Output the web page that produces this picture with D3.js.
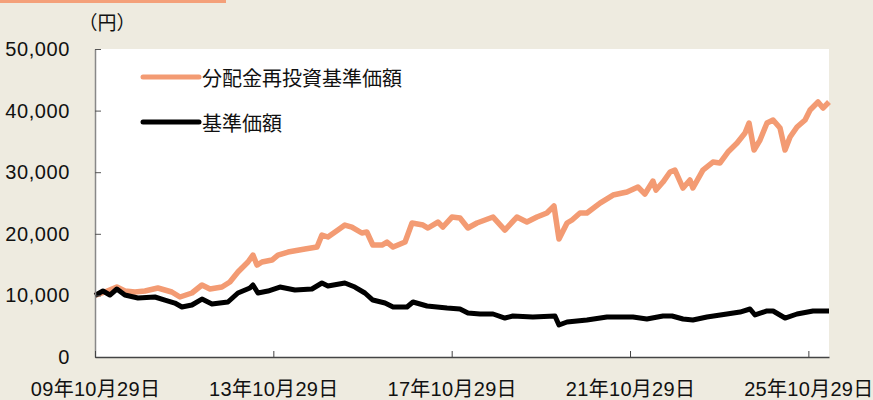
<!DOCTYPE html>
<html>
<head>
<meta charset="utf-8">
<script src="https://cdn.jsdelivr.net/npm/d3@7"></script>
<style>
  html, body { margin: 0; padding: 0; background: #eeebe0; }
  svg { display: block; }
  text { font-family: "Liberation Sans", "Noto Sans CJK JP", sans-serif; fill: #111; }
</style>
</head>
<body>
<div id="chart"></div>
<script>
// 分配金再投資基準価額 (orange)
const reinvestDates = [
  '2009-10-29', '2010-01-18', '2010-04-26', '2010-07-01', '2010-09-21', '2010-12-12',
  '2011-03-28', '2011-07-20', '2011-09-25', '2012-01-01', '2012-03-23', '2012-05-28',
  '2012-09-03', '2012-11-07', '2013-01-12', '2013-04-04', '2013-05-15', '2013-06-17',
  '2013-07-28', '2013-10-18', '2013-12-06', '2014-02-26', '2014-07-15', '2014-10-22',
  '2014-12-01', '2015-01-19', '2015-04-11', '2015-06-07', '2015-08-03', '2015-10-24',
  '2015-12-04', '2016-01-22', '2016-04-06', '2016-05-17', '2016-07-06', '2016-10-12',
  '2016-12-08', '2017-03-08', '2017-04-18', '2017-07-08', '2017-08-18', '2017-10-31',
  '2018-01-05', '2018-03-11', '2018-05-24', '2018-10-03', '2019-01-08', '2019-04-16',
  '2019-07-07', '2019-09-27', '2019-12-18', '2020-02-14', '2020-03-26', '2020-05-31',
  '2020-07-11', '2020-09-14', '2020-11-10', '2021-02-25', '2021-06-12', '2021-10-04',
  '2022-01-02', '2022-02-28', '2022-05-05', '2022-05-30', '2022-07-26', '2022-09-22',
  '2022-11-01', '2023-01-06', '2023-03-04', '2023-03-28', '2023-06-18', '2023-09-08',
  '2023-11-04', '2024-01-09', '2024-03-24', '2024-05-28', '2024-06-30', '2024-08-10',
  '2024-09-28', '2024-11-24', '2025-01-13', '2025-03-11', '2025-04-21', '2025-06-01',
  '2025-07-28', '2025-10-02', '2025-11-12', '2026-01-16', '2026-02-26', '2026-04-16'
];
const reinvestValues = [
  10000, 10550, 11360, 10710, 10550, 10710,
  11200, 10550, 9740, 10390, 11690, 11040,
  11360, 12170, 13800, 15420, 16550, 14930,
  15420, 15740, 16550, 17040, 17530, 17850,
  19800, 19480, 20610, 21420, 21100, 20130,
  20290, 18180, 18180, 18660, 17850, 18660,
  21750, 21420, 20940, 21910, 21100, 22720,
  22560, 20940, 21750, 22720, 20610, 22720,
  21910, 22720, 23370, 24510, 19150, 21750,
  22240, 23370, 23370, 24990, 26290, 26780,
  27590, 26450, 28560, 27100, 28400, 30030,
  30350, 27430, 28730, 27430, 30350, 31650,
  31490, 33270, 34730, 36360, 37980, 33600,
  35220, 37980, 38470, 37170, 33600, 35710,
  37330, 38470, 40090, 41390, 40410, 41390
];

// 基準価額 (black)
const navDates = [
  '2009-10-29', '2010-01-02', '2010-02-28', '2010-04-26', '2010-07-01', '2010-10-16',
  '2011-03-04', '2011-05-25', '2011-08-14', '2011-10-11', '2012-01-01', '2012-03-23',
  '2012-06-13', '2012-10-22', '2013-01-12', '2013-04-20', '2013-05-15', '2013-06-25',
  '2013-09-15', '2013-12-22', '2014-04-24', '2014-09-10', '2014-12-01', '2015-01-19',
  '2015-06-07', '2015-08-28', '2015-11-18', '2016-01-22', '2016-05-01', '2016-07-06',
  '2016-10-28', '2016-12-16', '2017-04-10', '2017-09-21', '2018-01-05', '2018-03-11',
  '2018-06-18', '2018-10-03', '2019-01-08', '2019-03-14', '2019-08-25', '2020-02-22',
  '2020-03-26', '2020-05-31', '2020-11-10', '2021-04-23', '2021-11-22', '2022-03-16',
  '2022-07-26', '2022-10-08', '2023-01-06', '2023-03-28', '2023-07-21', '2024-01-01',
  '2024-04-17', '2024-07-08', '2024-08-18', '2024-11-24', '2025-01-13', '2025-04-21',
  '2025-07-28', '2025-12-06', '2026-04-16'
];
const navValues = [
  10000, 10710, 10060, 11040, 10060, 9580,
  9740, 9250, 8760, 8120, 8440, 9410,
  8600, 8930, 10390, 11200, 11690, 10390,
  10710, 11360, 10870, 11040, 12010, 11520,
  12010, 11360, 10390, 9250, 8760, 8120,
  8120, 8930, 8280, 7950, 7790, 7140,
  6980, 6980, 6330, 6650, 6490, 6650,
  5190, 5680, 6000, 6490, 6490, 6170,
  6650, 6650, 6170, 6000, 6490, 6980,
  7300, 7790, 6820, 7470, 7470, 6330,
  6980, 7470, 7470
];

const yTicks = [0, 10000, 20000, 30000, 40000, 50000];
const xTicks = ['2009-10-29', '2013-10-29', '2017-10-29', '2021-10-29', '2025-10-29'];
const seriesNames = ['分配金再投資基準価額', '基準価額'];
const unitLabel = '（円）';

const width = 873;
const height = 400;
const parse = d3.timeParse('%Y-%m-%d');

const x = d3.scaleTime()
  .domain([parse('2009-10-29'), parse('2026-04-16')])
  .range([95, 829]);
const y = d3.scaleLinear()
  .domain([0, 50000])
  .range([357, 49]);

const svg = d3.select('#chart')
  .append('svg')
  .attr('width', width)
  .attr('height', height);

// orange strip at the top
svg.append('rect')
  .attr('x', 0).attr('y', 0)
  .attr('width', 226).attr('height', 3)
  .attr('fill', '#f4a07a');

// plot panel
svg.append('rect')
  .attr('x', x.range()[0]).attr('y', y.range()[1])
  .attr('width', x.range()[1] - x.range()[0])
  .attr('height', y.range()[0] - y.range()[1])
  .attr('fill', '#fff');

const reinvest = reinvestDates.map((d, i) => ({ date: parse(d), value: reinvestValues[i] }));
const nav = navDates.map((d, i) => ({ date: parse(d), value: navValues[i] }));

const line = d3.line()
  .x(d => x(d.date))
  .y(d => y(d.value));

svg.append('path')
  .datum(reinvest)
  .attr('d', line)
  .attr('fill', 'none')
  .attr('stroke', '#f39b73')
  .attr('stroke-width', 5.5)
  .attr('stroke-linejoin', 'round');

svg.append('path')
  .datum(nav)
  .attr('d', line)
  .attr('fill', 'none')
  .attr('stroke', '#000')
  .attr('stroke-width', 5)
  .attr('stroke-linejoin', 'round');

// y axis
const yAxis = svg.append('g')
  .attr('transform', `translate(${x.range()[0]},0)`)
  .call(d3.axisLeft(y)
    .tickValues(yTicks)
    .tickSizeInner(-6)
    .tickSizeOuter(0)
    .tickPadding(25)
    .tickFormat(d3.format(',')));
yAxis.select('.domain').attr('stroke', '#888').attr('stroke-width', 1.5);
yAxis.selectAll('.tick line').attr('stroke', '#555');
yAxis.selectAll('.tick text')
  .attr('font-size', 20)
  .attr('letter-spacing', 0.6)
  .attr('font-family', null);

// x axis
const xAxis = svg.append('g')
  .attr('transform', `translate(0,${y.range()[0]})`)
  .call(d3.axisBottom(x)
    .tickValues(xTicks.map(parse))
    .tickSizeInner(-6)
    .tickSizeOuter(0)
    .tickFormat(d3.timeFormat('%y年%m月%d日')));
xAxis.select('.domain').attr('stroke', '#444').attr('stroke-width', 1.5);
xAxis.selectAll('.tick line').attr('stroke', '#444');
xAxis.selectAll('.tick text')
  .attr('y', 32)
  .attr('dy', '0.35em')
  .attr('font-size', 20)
  .attr('letter-spacing', 0.3)
  .attr('font-family', null);

// unit
svg.append('text')
  .attr('x', 107)
  .attr('y', 23)
  .attr('dy', '0.35em')
  .attr('text-anchor', 'middle')
  .attr('font-size', 19)
  .text(unitLabel);

// legend
const legendColors = ['#f39b73', '#000'];
const legend = svg.append('g');
seriesNames.forEach((name, i) => {
  const ly = 77 + i * 45;
  legend.append('line')
    .attr('x1', 143).attr('x2', 199)
    .attr('y1', ly).attr('y2', ly)
    .attr('stroke', legendColors[i])
    .attr('stroke-width', 5)
    .attr('stroke-linecap', 'round');
  legend.append('text')
    .attr('x', 202)
    .attr('y', ly + 2)
    .attr('dy', '0.35em')
    .attr('font-size', 20)
    .text(name);
});
</script>
</body>
</html>
